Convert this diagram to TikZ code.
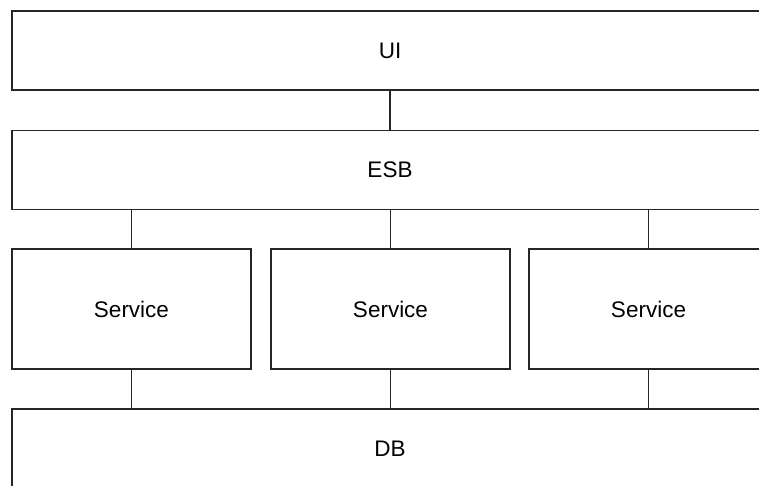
\documentclass[tikz,border=0pt]{standalone}
\usepackage{fontspec}
\setmainfont{Liberation Sans}
\begin{document}
\begin{tikzpicture}[x=1pt,y=-1pt,
  label font/.style={font=\fontsize{22.5}{27}\selectfont},
  layer/.style={draw=black!85,line width=1.4pt,fill=white,minimum width=756pt,minimum height=79pt,inner sep=0pt,label font},
  svc/.style={draw=black!85,line width=1.4pt,fill=white,minimum width=239pt,minimum height=120pt,inner sep=0pt,label font},
  link/.style={draw=black!85,line width=1.3pt}]
\useasboundingbox (0,0) rectangle (759,485);
\clip (0,0) rectangle (759,485);
% stacked layers
\node[layer] (ui)  at (390,50.5) {UI};
\node[layer] (esb) at (390,170) {ESB};
\node[svc] (s1) at (131.5,309) {Service};
\node[svc] (s2) at (390.5,309) {Service};
\node[svc] (s3) at (648.5,309) {Service};
\node[layer,minimum height=80pt] (db) at (390,449) {DB};
% connectors between layers
\draw[link] (ui.south) -- (esb.north);
\draw[link] (s1.north) -- (s1.north |- esb.south);
\draw[link] (s2.north) -- (s2.north |- esb.south);
\draw[link] (s3.north) -- (s3.north |- esb.south);
\draw[link] (s1.south) -- (s1.south |- db.north);
\draw[link] (s2.south) -- (s2.south |- db.north);
\draw[link] (s3.south) -- (s3.south |- db.north);
\end{tikzpicture}
\end{document}
